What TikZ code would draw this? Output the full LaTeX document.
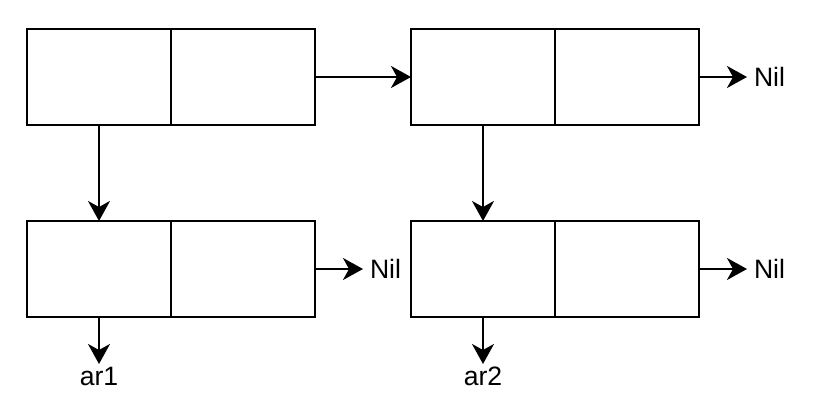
\documentclass[tikz,border=0pt]{standalone}
\usepackage{fontspec}
\setmainfont{Liberation Sans}
\usetikzlibrary{arrows.meta,positioning}

\begin{document}
\begin{tikzpicture}[x=0.5pt,y=-0.5pt,line width=1pt,
    >={Stealth[length=10pt,width=11pt,inset=3pt]},
    cell/.style={draw,minimum width=72pt,minimum height=48pt,inner sep=0pt,outer sep=0pt},
    tag/.style={inner sep=1pt,font=\fontsize{13.3}{16}\selectfont},
    niltag/.style={tag,inner xsep=3pt}]
  \useasboundingbox (0,0) rectangle (816,416);
  % top row
  \node[cell] (a1) at (99,77) {};
  \node[cell,right=0pt of a1] (a1r) {};
  \node[cell] (b1) at (483,77) {};
  \node[cell,right=0pt of b1] (b1r) {};
  % bottom row
  \node[cell] (a2) at (99,269) {};
  \node[cell,right=0pt of a2] (a2r) {};
  \node[cell] (b2) at (483,269) {};
  \node[cell,right=0pt of b2] (b2r) {};
  % ends
  \node[niltag,right=24pt of b1r] (nil1) {Nil};
  \node[niltag,right=24pt of a2r] (nil2) {Nil};
  \node[niltag,right=24pt of b2r] (nil3) {Nil};
  \node[tag,below=23.5pt of a2] (ar1) {ar1};
  \node[tag,below=23.5pt of b2] (ar2) {ar2};
  % links
  \draw[->] (a1r.east) -- (b1.west);
  \draw[->] (a1.south) -- (a2.north);
  \draw[->] (b1.south) -- (b2.north);
  \draw[->] (b1r.east) -- (nil1.west);
  \draw[->] (a2r.east) -- (nil2.west);
  \draw[->] (b2r.east) -- (nil3.west);
  \draw[->] (a2.south) -- (ar1.north);
  \draw[->] (b2.south) -- (ar2.north);
\end{tikzpicture}
\end{document}
